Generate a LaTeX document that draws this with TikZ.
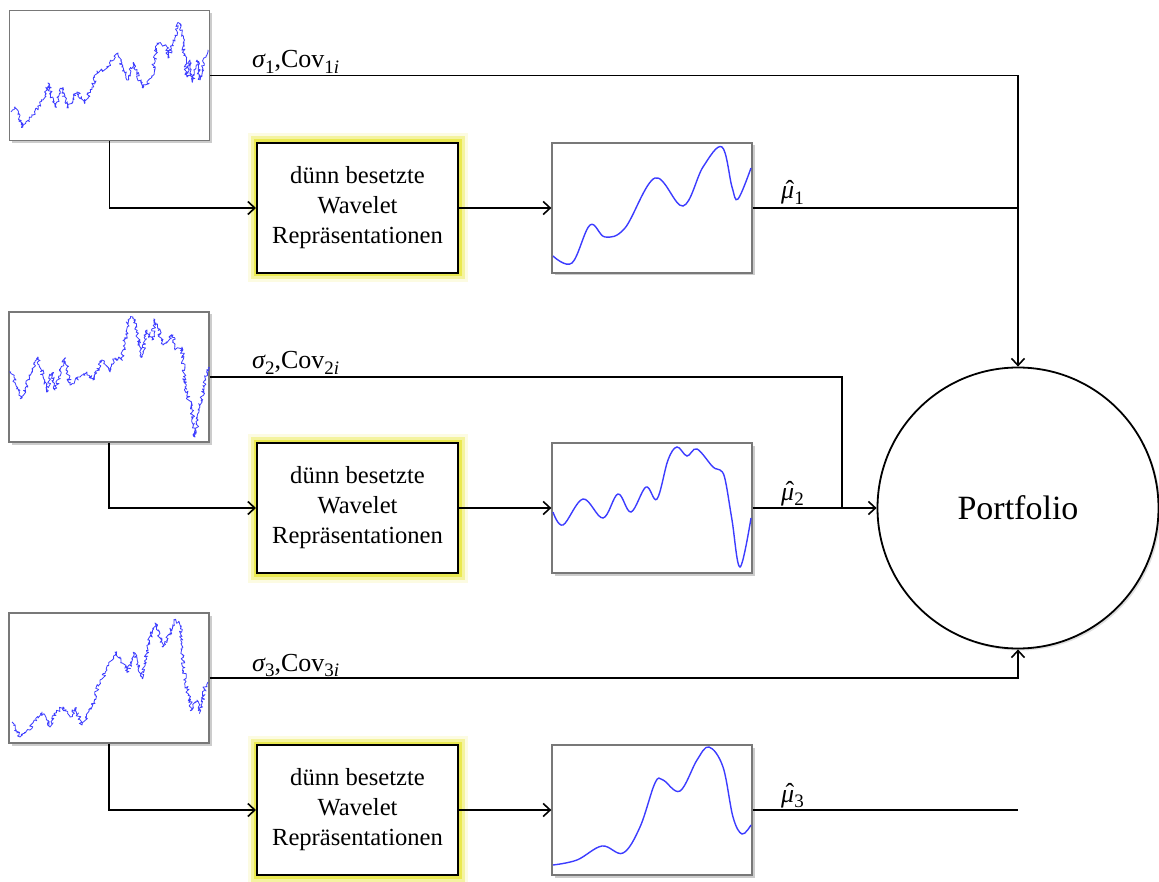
\documentclass[tikz,border=0pt]{standalone}
\usepackage{fontspec}
\setmainfont{Liberation Serif}
\usetikzlibrary{arrows.meta,shadows,decorations.pathmorphing,calc}
\definecolor{glowcol}{RGB}{232,230,60}
\definecolor{curve}{RGB}{60,60,255}
\definecolor{frame}{RGB}{120,120,120}
\newcommand\mysub[1]{\raisebox{-0.22em}{\fontsize{19}{20}\selectfont #1}}
\newcommand\myhatmu{\ooalign{\itshape μ\cr\hidewidth\kern0.18em\raisebox{0.02em}{ˆ}\hidewidth\cr}}
\begin{document}
\begin{tikzpicture}[x=1pt,y=-1pt,
  chart/.style={draw=frame, line width=1.3pt, fill=white, minimum width=200pt, minimum height=130pt, inner sep=0pt,
    drop shadow={shadow xshift=2.5pt, shadow yshift=-2.5pt, opacity=0.4}},
  wbox/.style={draw=black, line width=2pt, fill=white, minimum width=201pt, minimum height=130pt, inner sep=0pt,
    align=center, font=\fontsize{24.6}{30}\selectfont,
    preaction={draw=glowcol, line width=19pt, opacity=0.15, rounded corners=9pt},
    preaction={draw=glowcol, line width=13pt, opacity=0.4, rounded corners=6pt},
    preaction={draw=glowcol, line width=7pt, opacity=0.8}},
  pnode/.style={circle, draw=black, line width=1.8pt, fill=white, minimum size=281pt, inner sep=0pt,
    font=\fontsize{34}{38}\selectfont, drop shadow={shadow xshift=2pt, shadow yshift=-2pt, opacity=0.25}},
  conn/.style={draw=black, line width=1.6pt},
  arr/.style={conn, -{Straight Barb[length=7pt,width=13pt]}},
  lbl/.style={anchor=base west, inner sep=0pt, font=\fontsize{26}{30}\selectfont},
  rough/.style={draw=curve, line width=0.8pt, line join=round, decorate,
    decoration={random steps, segment length=1.3pt, amplitude=2pt}},
  smoothc/.style={draw=curve, line width=1.4pt, smooth, tension=0.6}
]
\useasboundingbox (0,0) rectangle (1159,882);

% left charts
\node[chart] (L1) at (109.5,75.5) {};
\node[chart] (L2) at (109,377) {};
\node[chart] (L3) at (109,678) {};
% wavelet boxes
\node[wbox] (B1) at (357.5,208) {dünn besetzte\\Wavelet\\Repräsentationen};
\node[wbox] (B2) at (357.5,508) {dünn besetzte\\Wavelet\\Repräsentationen};
\node[wbox] (B3) at (357.5,810) {dünn besetzte\\Wavelet\\Repräsentationen};
% smoothed charts
\node[chart] (M1) at (652,208) {};
\node[chart] (M2) at (652,508) {};
\node[chart] (M3) at (652,810) {};
% portfolio
\node[pnode] (P) at (1018,508) {Portfolio};

% rough series
\pgfmathsetseed{11}
\draw[rough] plot coordinates {(11,112) (15,107) (23,127) (33,115) (43,100) (48,83) (55,107) (62,88) (67,108) (77,92) (85,103) (92,87) (97,72) (107,68) (118,53) (127,80) (133,63) (143,88) (152,77) (157,43) (167,47) (168,58) (173,43) (179,23) (182,33) (187,77) (190,60) (192,82) (197,60) (200,80) (204,58) (208,50)};
\pgfmathsetseed{23}
\draw[rough] plot coordinates {(11,372) (22,398) (30,375) (38,357) (47,392) (52,373) (55,390) (65,358) (70,385) (80,377) (87,372) (93,380) (102,360) (110,372) (115,358) (122,360) (128,320) (133,317) (142,357) (147,330) (152,340) (155,320) (163,345) (173,335) (175,350) (182,347) (185,387) (192,410) (195,437) (200,407) (205,380) (208,368)};
\pgfmathsetseed{37}
\draw[rough] plot coordinates {(12,722) (20,737) (30,730) (33,723) (42,712) (50,727) (55,713) (63,707) (70,717) (75,708) (82,725) (92,707) (100,680) (107,670) (115,652) (120,657) (127,672) (135,653) (142,678) (148,645) (155,623) (163,647) (170,633) (175,620) (180,625) (185,680) (192,710) (197,700) (200,712) (205,687) (208,682)};

% smooth series
\draw[smoothc] plot coordinates {(553,256) (572,263) (590,225) (605,237) (625,228) (655,178) (683,206) (703,167) (722,147) (732,187) (738,199) (751,168)};
\draw[smoothc] plot coordinates {(553,512) (563,525) (583,499) (603,518) (618,494) (631,512) (646,487) (657,499) (668,460) (677,447) (687,456) (697,449) (713,467) (720,470) (725,479) (732,520) (740,567) (751,518)};
\draw[smoothc] plot coordinates {(553,865) (577,860) (602,846) (623,853) (640,827) (655,783) (663,780) (680,791) (697,760) (709,747) (723,767) (733,817) (742,834) (751,825)};

% connectors
\coordinate (J2) at (842,508);
\draw[arr] (L1.east) -| (P.north);
\draw[conn] (M1.east) -- (M1.east -| P.north);
\draw[conn] (L2.east) -| (J2);
\draw[arr] (M2.east) -- (P.west);
\draw[arr] (L3.east) -| (P.south);
\draw[conn] (M3.east) -- (M3.east -| P.south);
\draw[arr] (L1.south) |- (B1.west);
\draw[arr] (L2.south) |- (B2.west);
\draw[arr] (L3.south) |- (B3.west);
\draw[arr] (B1.east) -- (M1.west);
\draw[arr] (B2.east) -- (M2.west);
\draw[arr] (B3.east) -- (M3.west);

% labels
\node[lbl] (s1) at (252,68) {{\itshape σ}\mysub{1},Cov\mysub{1\itshape i}};
\node[lbl] (s2) at (252,369) {{\itshape σ}\mysub{2},Cov\mysub{2\itshape i}};
\node[lbl] (s3) at (252,671) {{\itshape σ}\mysub{3},Cov\mysub{3\itshape i}};
\node[lbl] (m1) at (781,199) {\myhatmu\mysub{1}};
\node[lbl] (m2) at (781,500) {\myhatmu\mysub{2}};
\node[lbl] (m3) at (781,802) {\myhatmu\mysub{3}};
\end{tikzpicture}
\end{document}
